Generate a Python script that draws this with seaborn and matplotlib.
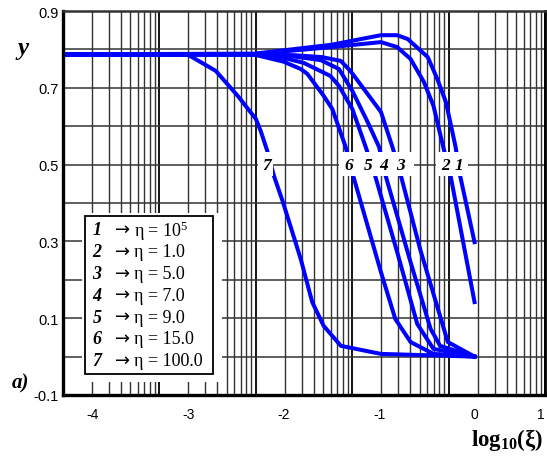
import matplotlib
matplotlib.use('Agg')
import matplotlib.pyplot as plt
from matplotlib.patches import Rectangle
from matplotlib.ticker import LogLocator
import numpy as np
import pandas as pd
import seaborn as sns

# curves: y vs log10(xi), one pair of lists per eta value
x1 = [-4.31, -2.3, -1.5, -0.98, -0.81, -0.70, -0.49, -0.39, -0.30, -0.20, -0.15, 0.0]
y1 = [0.787, 0.789, 0.812, 0.837, 0.837, 0.827, 0.780, 0.723, 0.663, 0.548, 0.470, 0.298]
x2 = [-4.31, -2.3, -1.5, -0.98, -0.81, -0.67, -0.53, -0.43, -0.33, -0.25, 0.0]
y2 = [0.787, 0.788, 0.806, 0.819, 0.806, 0.775, 0.715, 0.653, 0.548, 0.470, 0.142]
x3 = [-4.31, -2.3, -1.9, -1.6, -1.40, -1.30, -0.98, -0.86, -0.77, -0.57, -0.28, 0.0]
y3 = [0.787, 0.787, 0.785, 0.780, 0.770, 0.744, 0.637, 0.546, 0.470, 0.280, 0.038, 0.0]
x4 = [-4.31, -2.3, -1.9, -1.61, -1.42, -1.28, -1.12, -1.0, -0.93, -0.67, -0.46, -0.36, 0.0]
y4 = [0.787, 0.787, 0.782, 0.772, 0.749, 0.692, 0.611, 0.546, 0.470, 0.246, 0.072, 0.028, 0.0]
x5 = [-4.31, -2.3, -2.0, -1.79, -1.51, -1.42, -1.28, -1.14, -1.04, -0.81, -0.60, -0.43, 0.0]
y5 = [0.787, 0.787, 0.778, 0.765, 0.731, 0.705, 0.645, 0.546, 0.470, 0.272, 0.085, 0.020, 0.0]
x6 = [-4.31, -2.3, -2.0, -1.82, -1.75, -1.58, -1.49, -1.35, -1.27, -0.98, -0.83, -0.67, -0.43, 0.0]
y6 = [0.787, 0.786, 0.768, 0.749, 0.736, 0.679, 0.645, 0.546, 0.470, 0.220, 0.098, 0.038, 0.007, 0.0]
x7 = [-4.31, -3.0, -2.71, -2.48, -2.29, -2.24, -2.17, -2.10, -2.01, -1.82, -1.70, -1.58, -1.40, -0.98, 0.0]
y7 = [0.787, 0.786, 0.744, 0.679, 0.619, 0.588, 0.535, 0.470, 0.405, 0.254, 0.142, 0.080, 0.028, 0.007, 0.0]

curve_ids = ['1', '2', '3', '4', '5', '6', '7']
eta_labels = ['10$^5$', '1.0', '5.0', '7.0', '9.0', '15.0', '100.0']
# where the curve numbers sit along the y = 0.5 line
tag_x = [-0.168, -0.304, -0.775, -0.953, -1.11, -1.32, -2.18]

xs_all = [x1, x2, x3, x4, x5, x6, x7]
ys_all = [y1, y2, y3, y4, y5, y6, y7]
df = pd.concat([pd.DataFrame({'x': xs, 'y': ys, 'curve': c})
                for c, xs, ys in zip(curve_ids, xs_all, ys_all)], ignore_index=True)

plt.rcParams['mathtext.fontset'] = 'custom'
plt.rcParams['mathtext.rm'] = 'Liberation Serif'
plt.rcParams['mathtext.it'] = 'Liberation Serif:italic'
plt.rcParams['mathtext.bf'] = 'Liberation Serif:bold'
serif = ['Liberation Serif', 'DejaVu Serif']
sans = ['Liberation Sans', 'DejaVu Sans']

W, H = 547, 460
fig = plt.figure(figsize=(W / 100, H / 100), dpi=100)
pos = [63 / W, 1 - 396 / H, 482 / W, 384 / H]

# background log grid (5 decades)
axg = fig.add_axes(pos)
axg.set_xscale('log')
axg.set_xlim(1, 1e5)
axg.set_ylim(-0.1, 0.9)
axg.set_yticks(np.arange(-0.1, 0.91, 0.1))
axg.xaxis.set_minor_locator(LogLocator(base=10, subs=np.arange(2, 10), numticks=20))
axg.grid(which='major', axis='x', color='black', lw=1.3)
axg.grid(which='minor', axis='x', color='#333333', lw=1.0)
axg.grid(which='major', axis='y', color='#333333', lw=1.1)
axg.tick_params(which='both', length=0, labelbottom=False, labelleft=False)
for s in axg.spines.values():
    s.set_visible(False)

# data axes on top
ax = fig.add_axes(pos)
ax.patch.set_alpha(0)
sns.lineplot(data=df, x='x', y='y', units='curve', estimator=None, sort=False,
             color='#0000ff', lw=2.9, ax=ax, legend=False)
xmin, xmax = -4.31, 0.738
ax.set_xlim(xmin, xmax)
ax.set_ylim(-0.1, 0.9)
ax.set_xticks([-4, -3, -2, -1, 0, xmax])
ax.set_xticklabels(['-4', '-3', '-2', '-1', '0', '1'], family=sans, fontsize=10)
ax.get_xticklabels()[-1].set_horizontalalignment('right')
ax.set_yticks([-0.1, 0.1, 0.3, 0.5, 0.7, 0.9])
ax.set_yticklabels(['-0.1', '0.1', '0.3', '0.5', '0.7', '0.9'], family=sans, fontsize=10.5)
ax.tick_params(axis='x', length=0, pad=9)
ax.tick_params(axis='y', length=0, pad=3)
ax.set_xlabel('')
ax.set_ylabel('')
ax.spines['left'].set_linewidth(2.4)
ax.spines['bottom'].set_linewidth(2.4)
ax.spines['top'].set_linewidth(1.8)
ax.spines['top'].set_color('#333333')
ax.spines['right'].set_linewidth(2.0)

# white gaps where the curve numbers are written
for x0, x1_ in [(-1.424, -0.639), (-0.408, -0.073), (-2.27, -2.115)]:
    ax.add_patch(Rectangle((x0, 0.470), x1_ - x0, 0.063, facecolor='white',
                           edgecolor='none', zorder=4))
for c, tx in zip(curve_ids, tag_x):
    ax.text(tx, 0.499, c, ha='center', va='center', family=serif, fontsize=12.5,
            fontweight='bold', style='italic', zorder=6)

# legend block
ax.add_patch(Rectangle((0.0394, 0.034), 0.291, 0.44, transform=ax.transAxes,
                       facecolor='white', edgecolor='none', zorder=5))
ax.add_patch(Rectangle((0.0456, 0.0547), 0.2654, 0.4113, transform=ax.transAxes,
                       facecolor='none', edgecolor='black', lw=1.3, zorder=6))
for i, (c, e) in enumerate(zip(curve_ids, eta_labels)):
    py = 231 + 21.8 * i
    fig.text(97 / W, 1 - py / H, c, ha='center', va='center', family=serif,
             fontsize=13, fontweight='bold', style='italic', zorder=7)
    fig.text(115 / W, 1 - (py - 1) / H, '\u2192', ha='left', va='center',
             family=['DejaVu Sans'], fontsize=13, zorder=7)
    fig.text(134 / W, 1 - py / H, '\u03b7 = ' + e, ha='left', va='center',
             family=serif, fontsize=13, zorder=7)

fig.text(23 / W, 1 - 48 / H, 'y', ha='center', va='center', family=serif,
         fontsize=18, fontweight='bold', style='italic')
fig.text(20 / W, 1 - 383 / H, 'a)', ha='center', va='center', family=serif,
         fontsize=15, fontweight='bold', style='italic')
fig.text(543 / W, 1 - 440 / H, r'$\mathbf{log_{10}(\xi)}$', ha='right', va='center',
         fontsize=16.5)

fig.savefig('out.png', dpi=100)
